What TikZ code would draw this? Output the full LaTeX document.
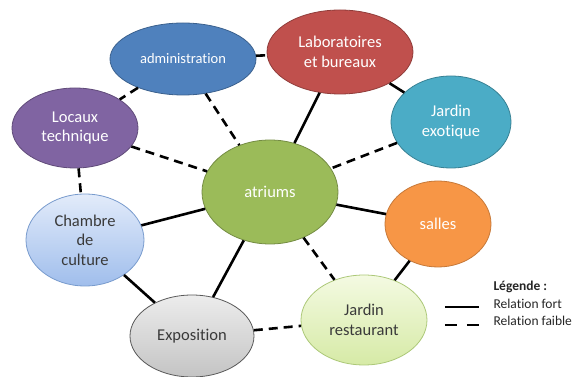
\documentclass[tikz,border=0pt]{standalone}
\usepackage{fontspec}
\setmainfont{Carlito}[Ligatures=NoCommon]
\usepackage{tikz}
\usetikzlibrary{shapes.geometric, positioning}
\definecolor{bleu}{HTML}{4F81BD}
\definecolor{rouge}{HTML}{C0504D}
\definecolor{turquoise}{HTML}{4BACC6}
\definecolor{violet}{HTML}{8064A2}
\definecolor{vert}{HTML}{9BBB59}
\definecolor{orange}{HTML}{F79646}
\definecolor{texte}{HTML}{3A3A3A}
\tikzstyle{zone} = [ellipse, inner sep=0pt, align=center, line width=0.8pt, font=\fontsize{16.5}{19.5}\selectfont, text=white]
\tikzstyle{fort} = [line width=2.6pt]
\tikzstyle{faible} = [line width=2.6pt, dash pattern=on 9pt off 6pt]

\begin{document}
\begin{tikzpicture}[x=1pt, y=1pt, node distance=0pt and 0pt, on grid]
		\useasboundingbox (-270,-185) rectangle (317,192);
		\node (atr) [zone, minimum width=136pt, minimum height=104pt, fill=vert, draw=vert!75!black] {atriums};
		\node (admin) [zone, above left=133pt and 87pt of atr, minimum width=146pt, minimum height=72pt, fill=bleu, draw=bleu!75!black, font=\fontsize{14.5}{17}\selectfont] {administration};
		\node (labo) [zone, above right=140pt and 70pt of atr, minimum width=146pt, minimum height=84pt, fill=rouge, draw=rouge!75!black] {Laboratoires\\et bureaux};
		\node (jexo) [zone, above right=70pt and 181pt of atr, minimum width=120pt, minimum height=92pt, fill=turquoise, draw=turquoise!75!black] {Jardin\\exotique};
		\node (loc) [zone, above left=64pt and 195pt of atr, minimum width=126pt, minimum height=80pt, fill=violet, draw=violet!75!black] {Locaux\\technique};
		\node (sal) [zone, below right=32pt and 168pt of atr, minimum width=106pt, minimum height=86pt, fill=orange, draw=orange!80!black] {salles};
		\node (cult) [zone, below left=48pt and 185pt of atr, minimum width=118pt, minimum height=92pt, top color={rgb,255:red,226;green,235;blue,250}, bottom color={rgb,255:red,160;green,190;blue,236}, draw={rgb,255:red,120;green,155;blue,205}, text=texte] {Chambre\\de\\culture};
		\node (expo) [zone, below left=144pt and 78pt of atr, minimum width=124pt, minimum height=82pt, top color={rgb,255:red,236;green,236;blue,236}, bottom color={rgb,255:red,196;green,196;blue,196}, draw=black!65, text=texte] {Exposition};
		\node (jrest) [zone, below right=128pt and 94pt of atr, minimum width=126pt, minimum height=90pt, top color={rgb,255:red,244;green,250;blue,226}, bottom color={rgb,255:red,214;green,234;blue,166}, draw={rgb,255:red,172;green,200;blue,120}, text=texte] {Jardin\\restaurant};

		% relations
		\draw [faible] (admin) -- (labo);
		\draw [faible] (admin) -- (loc);
		\draw [faible] (admin) -- (atr);
		\draw [faible] (loc) -- (atr);
		\draw [faible] (loc) -- (cult);
		\draw [fort] (labo) -- (atr);
		\draw [fort] (labo) -- (jexo);
		\draw [faible] (jexo) -- (atr);
		\draw [fort] (atr) -- (sal);
		\draw [fort] (atr) -- (cult);
		\draw [fort] (atr) -- (expo);
		\draw [faible] (atr) -- (jrest);
		\draw [fort] (sal) -- (jrest);
		\draw [fort] (cult) -- (expo);
		\draw [faible] (expo) -- (jrest);

		% legende
		\node (leg) [anchor=west, font=\fontsize{13.5}{15}\selectfont\bfseries, text=black!85] at (220,-95) {Légende :};
		\node (lfort) [anchor=west, font=\fontsize{13.5}{15}\selectfont, text=black!85] at (220,-112) {Relation fort};
		\node (lfaible) [anchor=west, font=\fontsize{13.5}{15}\selectfont, text=black!85] at (220,-129) {Relation faible};
		\coordinate (f1) at (175,-115);
		\coordinate (f2) at (209,-115);
		\coordinate (d1) at (175,-133);
		\coordinate (d2) at (209,-133);
		\draw [fort] (f1) -- (f2);
		\draw [line width=2.6pt, dash pattern=on 12pt off 10pt] (d1) -- (d2);
	\end{tikzpicture}
\end{document}
